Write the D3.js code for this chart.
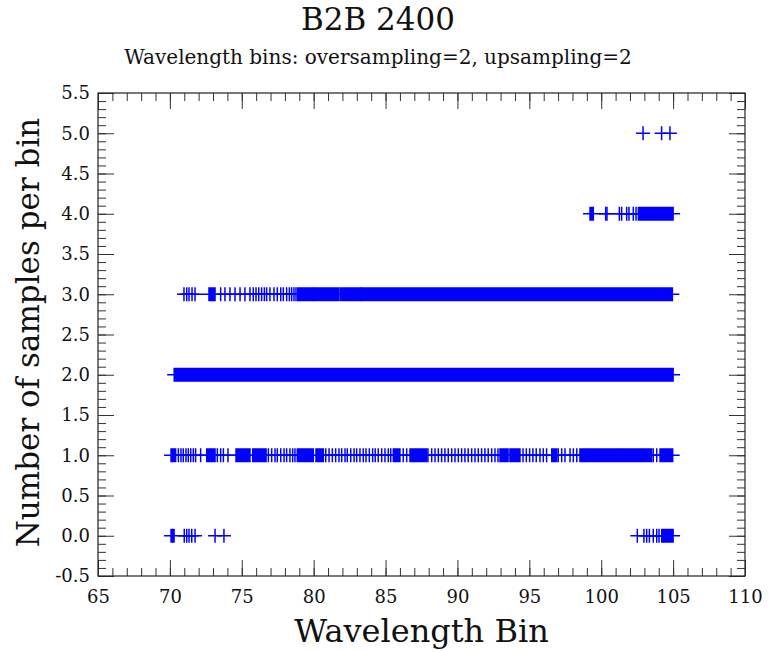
<!DOCTYPE html>
<html>
<head>
<meta charset="utf-8">
<script src="https://cdn.jsdelivr.net/npm/d3@7"></script>
<style>
  body { margin: 0; background: #fff; }
  text { font-family: "DejaVu Serif", serif; fill: #111; }
  .axis path, .axis line { stroke: #333; }
</style>
</head>
<body>
<div id="chart"></div>
<script>

// Count levels (samples per bin)
var levels = [0, 1, 2, 3, 4, 5];

// Isolated bins, per level
var single0 = [71.0, 71.17, 71.33, 71.52, 71.75, 73.14, 73.76,
    102.51, 102.97, 103.16, 103.35, 103.62, 103.86, 104.02];
var single1 = [70.59, 70.77, 70.93, 71.12, 71.28, 71.45, 71.63, 71.79, 72.14,
    73.30, 73.53, 73.72, 74.04,
    76.85, 77.08, 77.31, 77.47, 77.71, 77.94, 78.12, 78.35, 78.54, 78.70,
    80.84, 81.07, 81.30, 81.53, 81.76, 81.95, 82.18, 82.34, 82.58, 82.81, 82.99,
    83.22, 83.45, 83.64, 83.87, 84.10, 84.28, 84.49, 84.73, 84.96, 85.19, 85.36,
    86.23, 86.47,
    87.95, 88.21, 88.44, 88.67, 88.90, 89.13, 89.36, 89.60, 89.83, 90.06, 90.29,
    90.52, 90.75, 90.99, 91.22, 91.45, 91.68, 91.91, 92.14, 92.38, 92.61, 92.82,
    94.56, 94.79, 95.02, 95.25, 95.48, 95.74, 95.97, 96.20,
    97.01, 97.25, 97.48, 97.83, 98.06, 98.30,
    103.62, 103.86];
var single2 = [];
var single3 = [70.98, 71.17, 71.33, 71.54, 71.75,
    73.53, 73.83, 74.18, 74.53, 74.88, 75.22, 75.57, 75.80, 75.99, 76.18, 76.38,
    76.57, 76.73, 76.96, 77.24, 77.47, 77.71, 77.89, 78.12, 78.31, 78.47, 78.63, 78.77];
var single4 = [100.31, 100.40, 101.26, 101.42, 101.77, 101.93, 102.23, 102.42];
var single5 = [102.91, 104.20, 104.78];

// Stretches where the bins are packed so tight the markers merge [from, to]
var runs0 = [[70.08, 70.29], [104.21, 105.0]];
var runs1 = [[70.08, 70.40], [72.56, 73.14], [74.60, 75.57], [75.76, 76.69],
    [78.86, 79.97], [80.16, 80.67], [85.54, 86.00], [86.70, 87.86],
    [92.96, 93.52], [93.65, 94.35], [96.56, 96.91], [98.52, 101.26],
    [101.35, 103.51], [104.09, 104.97]];
var runs2 = [[70.3, 105.0]];
var runs3 = [[72.72, 73.14], [78.89, 79.97], [80.02, 81.71], [81.83, 83.22],
    [83.27, 85.26], [85.36, 104.95]];
var runs4 = [[99.22, 99.45], [102.58, 105.0]];
var runs5 = [];

var singles = [single0, single1, single2, single3, single4, single5];
var runs = [runs0, runs1, runs2, runs3, runs4, runs5];

var xTicks = [65, 70, 75, 80, 85, 90, 95, 100, 105, 110];
var yTicks = [-0.5, 0.0, 0.5, 1.0, 1.5, 2.0, 2.5, 3.0, 3.5, 4.0, 4.5, 5.0, 5.5];

var W = 769, H = 652;
var margin = {top: 93, right: 24, bottom: 76, left: 98};
var width = W - margin.left - margin.right,
    height = H - margin.top - margin.bottom;

var svg = d3.select("#chart").append("svg")
    .attr("width", W)
    .attr("height", H);

var g = svg.append("g")
    .attr("transform", "translate(" + margin.left + "," + margin.top + ")");

var x = d3.scaleLinear().domain([65, 110]).range([0, width]);
var y = d3.scaleLinear().domain([-0.5, 5.5]).range([height, 0]);

var xMinor = d3.range(65, 110.01, 1);
var yMinor = d3.range(-5, 55.01, 1).map(function(d) { return d / 10; });

var color = "#0000ff";
var half = 7;

// markers
var data = g.append("g").attr("class", "marks");
levels.forEach(function(lv, i) {
    var yy = y(lv);
    singles[i].forEach(function(v) {
        data.append("line")
            .attr("x1", x(v) - half).attr("x2", x(v) + half)
            .attr("y1", yy).attr("y2", yy)
            .attr("stroke", color).attr("stroke-width", 1.5);
        data.append("line")
            .attr("x1", x(v)).attr("x2", x(v))
            .attr("y1", yy - half).attr("y2", yy + half)
            .attr("stroke", color).attr("stroke-width", 1.5);
    });
    runs[i].forEach(function(r) {
        data.append("line")
            .attr("x1", x(r[0]) - half).attr("x2", x(r[1]) + half)
            .attr("y1", yy).attr("y2", yy)
            .attr("stroke", color).attr("stroke-width", 1.5);
        data.append("rect")
            .attr("x", x(r[0]) - 0.75)
            .attr("y", yy - half)
            .attr("width", x(r[1]) - x(r[0]) + 1.5)
            .attr("height", 2 * half)
            .attr("fill", color);
    });
});

// ticks on all four sides, pointing inward
function fmtY(d) { return d3.format(".1f")(d).replace("\u2212", "-"); }

g.append("g").attr("class", "axis")
    .attr("transform", "translate(0," + height + ")")
    .call(d3.axisBottom(x).tickValues(xMinor).tickSize(-8).tickFormat(""))
    .call(function(s) { s.select(".domain").remove(); });
g.append("g").attr("class", "axis")
    .attr("transform", "translate(0," + height + ")")
    .call(d3.axisBottom(x).tickValues(xTicks).tickSize(-16).tickPadding(14).tickFormat(d3.format("d")))
    .call(function(s) {
        s.select(".domain").remove();
        s.selectAll("text").style("font-size", "18px");
    });
g.append("g").attr("class", "axis")
    .call(d3.axisTop(x).tickValues(xMinor).tickSize(-8).tickFormat(""))
    .call(function(s) { s.select(".domain").remove(); });
g.append("g").attr("class", "axis")
    .call(d3.axisTop(x).tickValues(xTicks).tickSize(-16).tickFormat(""))
    .call(function(s) { s.select(".domain").remove(); });

g.append("g").attr("class", "axis")
    .call(d3.axisLeft(y).tickValues(yMinor).tickSize(-8).tickFormat(""))
    .call(function(s) { s.select(".domain").remove(); });
g.append("g").attr("class", "axis")
    .call(d3.axisLeft(y).tickValues(yTicks).tickSize(-16).tickPadding(8).tickFormat(fmtY))
    .call(function(s) {
        s.select(".domain").remove();
        s.selectAll("text").style("font-size", "18px");
    });
g.append("g").attr("class", "axis")
    .attr("transform", "translate(" + width + ",0)")
    .call(d3.axisRight(y).tickValues(yMinor).tickSize(-8).tickFormat(""))
    .call(function(s) { s.select(".domain").remove(); });
g.append("g").attr("class", "axis")
    .attr("transform", "translate(" + width + ",0)")
    .call(d3.axisRight(y).tickValues(yTicks).tickSize(-16).tickFormat(""))
    .call(function(s) { s.select(".domain").remove(); });

// frame
g.append("rect")
    .attr("width", width).attr("height", height)
    .attr("fill", "none").attr("stroke", "#222").attr("stroke-width", 1.2);

// titles
svg.append("text")
    .attr("x", 378).attr("y", 30)
    .attr("text-anchor", "middle")
    .style("font-size", "31px")
    .text("B2B 2400");
svg.append("text")
    .attr("x", 378).attr("y", 64)
    .attr("text-anchor", "middle")
    .style("font-size", "20px")
    .text("Wavelength bins: oversampling=2, upsampling=2");
svg.append("text")
    .attr("x", margin.left + width / 2).attr("y", 642)
    .attr("text-anchor", "middle")
    .style("font-size", "32px")
    .text("Wavelength Bin");
svg.append("text")
    .attr("transform", "translate(39," + (margin.top + height / 2 - 2) + ") rotate(-90)")
    .attr("text-anchor", "middle")
    .style("font-size", "31px")
    .text("Number of samples per bin");

</script>
</body>
</html>
